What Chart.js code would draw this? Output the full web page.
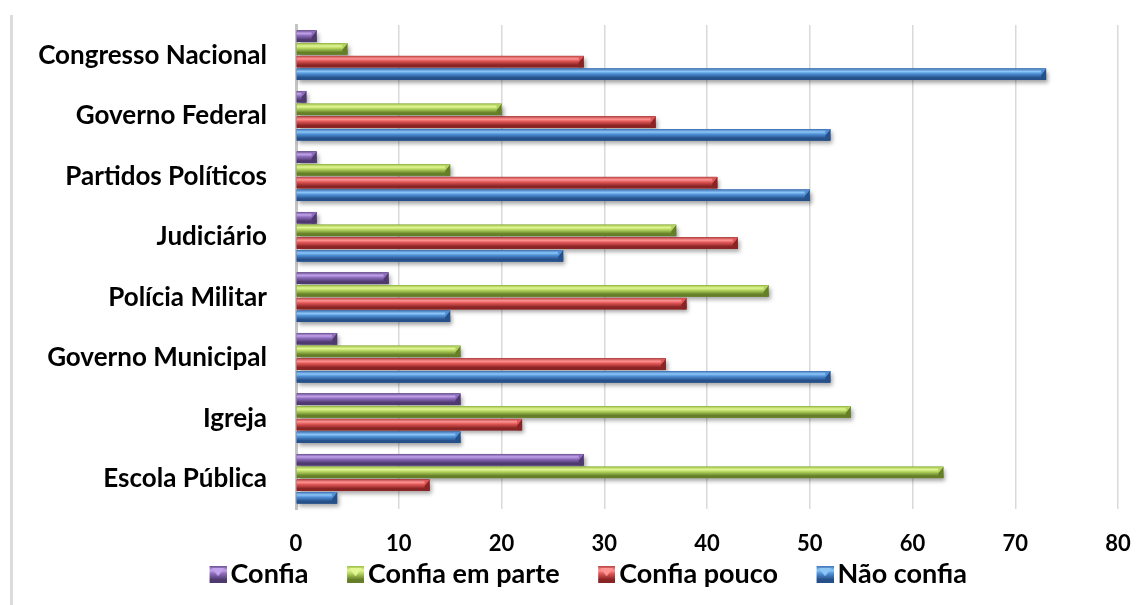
<!DOCTYPE html>
<html>
<head>
<meta charset="utf-8">
<script src="https://cdn.jsdelivr.net/npm/chart.js@4.4.1/dist/chart.umd.min.js"></script>
<style>
  html, body { margin: 0; padding: 0; background: #fff; }
  #wrap { position: relative; width: 1142px; height: 605px; }
  #edge { position: absolute; left: 10px; top: 15px; width: 3px; height: 590px; background: #dcdcdc; }
  canvas { position: absolute; left: 0; top: 0; }
</style>
</head>
<body>
<div id="wrap">
  <div id="edge"></div>
  <canvas id="chart" width="1142" height="605"></canvas>
</div>
<script>
const categories = [
  "Congresso Nacional", "Governo Federal", "Partidos Políticos", "Judiciário",
  "Polícia Militar", "Governo Municipal", "Igreja", "Escola Pública"
];
const seriesNames = ["Confia", "Confia em parte", "Confia pouco", "Não confia"];
const confia       = [2, 1, 2, 2, 9, 4, 16, 28];
const confiaParte  = [5, 20, 15, 37, 46, 16, 54, 63];
const confiaPouco  = [28, 35, 41, 43, 38, 36, 22, 13];
const naoConfia    = [73, 52, 50, 26, 15, 52, 16, 4];
const xTicks = [0, 10, 20, 30, 40, 50, 60, 70, 80];

// shades per series: [top edge, highlight, mid, bottom]
const shades = [
  ["#6a4f91", "#c2a3ec", "#8d6cbb", "#4f3a70"],
  ["#9cc048", "#e2f693", "#b2d45e", "#657f28"],
  ["#b84242", "#ff9494", "#e05656", "#8a2424"],
  ["#3f73b8", "#8cc6f6", "#4f8fd6", "#25508a"]
];

function barGradient(ctx, top, bottom, s) {
  const g = ctx.createLinearGradient(0, top, 0, bottom);
  g.addColorStop(0, s[0]);
  g.addColorStop(0.25, s[1]);
  g.addColorStop(0.45, s[2]);
  g.addColorStop(0.8, s[3]);
  g.addColorStop(1, s[3]);
  return g;
}

// legend marker: bevelled square on the right, transparent lead-in on the left,
// so the square sits close to its text and the items stay well apart
const markerSize = 17;
const markerLead = 38;
function swatch(s) {
  const c = document.createElement("canvas");
  c.width = markerLead + markerSize; c.height = markerSize;
  const x = c.getContext("2d");
  const m = markerSize;
  x.translate(markerLead, 0);
  x.fillStyle = barGradient(x, 0, m, s);
  x.fillRect(0, 0, m, m);
  x.fillStyle = s[1];
  x.beginPath();
  x.moveTo(2, 2); x.lineTo(m - 2, 2); x.lineTo(m / 2, m * 0.6); x.closePath();
  x.fill();
  return c;
}

// draws each bar as a bevelled cylinder with a soft shadow
const bevelBars = {
  id: "bevelBars",
  afterDatasetsDraw(chart) {
    const ctx = chart.ctx;
    const bars = [];
    chart.data.datasets.forEach((ds, i) => {
      chart.getDatasetMeta(i).data.forEach(el => {
        const p = el.getProps(["x", "y", "base", "height"], true);
        bars.push({ p, s: shades[i] });
      });
    });
    ctx.save();
    // shadows first
    bars.forEach(({ p, s }) => {
      const top = p.y - p.height / 2;
      ctx.save();
      ctx.shadowColor = "rgba(0,0,0,0.35)";
      ctx.shadowBlur = 4;
      ctx.shadowOffsetX = 2;
      ctx.shadowOffsetY = 3;
      ctx.fillStyle = s[3];
      ctx.fillRect(p.base, top, p.x - p.base, p.height);
      ctx.restore();
    });
    bars.forEach(({ p, s }) => {
      const top = p.y - p.height / 2;
      const bot = p.y + p.height / 2;
      const w = p.x - p.base;
      ctx.fillStyle = barGradient(ctx, top, bot, s);
      ctx.fillRect(p.base, top, w, p.height);
      // right end bevel
      const cap = Math.min(5, w * 0.5);
      ctx.fillStyle = s[3];
      ctx.beginPath();
      ctx.moveTo(p.x, top);
      ctx.lineTo(p.x, bot);
      ctx.lineTo(p.x - cap, bot);
      ctx.lineTo(p.x - cap, top + p.height * 0.55);
      ctx.closePath();
      ctx.fill();
      ctx.fillStyle = s[2];
      ctx.beginPath();
      ctx.moveTo(p.x, top);
      ctx.lineTo(p.x - cap, top + p.height * 0.55);
      ctx.lineTo(p.x - cap, top + 1);
      ctx.closePath();
      ctx.fill();
    });
    ctx.restore();
  }
};

const seriesValues = [confia, confiaParte, confiaPouco, naoConfia];
const font = "Lato, 'DejaVu Sans', sans-serif";

new Chart(document.getElementById("chart"), {
  type: "bar",
  data: {
    labels: categories,
    datasets: seriesNames.map((name, i) => ({
      label: name,
      data: seriesValues[i],
      backgroundColor: shades[i][2],
      borderWidth: 0,
      pointStyle: swatch(shades[i]),
      categoryPercentage: 0.84,
      barPercentage: 0.9
    }))
  },
  options: {
    indexAxis: "y",
    responsive: false,
    animation: false,
    layout: { padding: { left: 30, right: 24, top: 25, bottom: 7 } },
    plugins: {
      tooltip: { enabled: false },
      legend: {
        position: "bottom",
        labels: {
          usePointStyle: true,
          boxHeight: 15,
          pointStyleWidth: 36,
          padding: 10,
          color: "#000",
          font: { family: font, size: 27, weight: "bold" }
        }
      }
    },
    scales: {
      x: {
        min: 0,
        max: 80,
        afterBuildTicks: axis => { axis.ticks = xTicks.map(v => ({ value: v })); },
        afterFit: axis => {
          axis.height = 42;
          axis.paddingLeft = 0;
          axis.paddingRight = 0;
        },
        grid: { color: "#d9d9d9", lineWidth: 1.5, drawTicks: false },
        border: { display: false },
        ticks: { padding: 22, color: "#000", font: { family: font, size: 22, weight: "bold" } }
      },
      y: {
        afterFit: axis => {
          axis.width = 266;
          axis.paddingTop = 0;
          axis.paddingBottom = 0;
        },
        grid: { display: false, drawTicks: false },
        border: { color: "#c4c4c4", width: 3 },
        ticks: { padding: 29, color: "#000", font: { family: font, size: 26, weight: "bold" } }
      }
    }
  },
  plugins: [bevelBars]
});
</script>
</body>
</html>
